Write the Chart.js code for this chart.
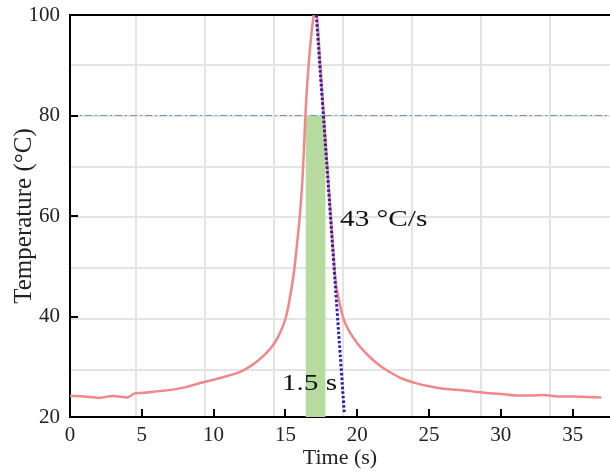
<!DOCTYPE html>
<html>
<head>
<meta charset="utf-8">
<script src="https://cdn.jsdelivr.net/npm/chart.js@4.4.1/dist/chart.umd.min.js"></script>
<style>
  html, body { margin: 0; padding: 0; background: #fff; }
  #wrap { width: 610px; height: 472px; }
</style>
</head>
<body>
<div id="wrap"><canvas id="chart"></canvas></div>
<script>
// measured temperature curve
const time = [0, 1, 2, 3, 4, 4.5, 5, 6, 7, 8, 9, 10, 11, 12, 13, 14, 14.5, 15, 15.2, 15.6, 15.9, 16.0, 16.2, 16.3, 16.4, 16.6, 16.95, 17.1,
  17.5, 17.9, 18.2, 18.5, 18.75, 19.05, 19.5, 20, 20.5, 21, 21.5, 22, 23, 24, 25, 26, 27, 28, 29, 30, 31, 32, 33, 34, 35, 36, 37];
const temp = [24.2, 24.1, 23.8, 24.2, 23.9, 24.7, 24.8, 25.1, 25.4, 25.9, 26.7, 27.4, 28.2, 29.2, 31.0, 33.8, 36.0, 39.5, 42.0, 49.0, 57.0, 60.0, 68.0, 74.0, 80.5, 89.5, 99.5, 101,
  87.0, 70.5, 58.5, 47.0, 43.0, 39.5, 36.8, 34.7, 33.0, 31.6, 30.4, 29.4, 27.8, 26.8, 26.1, 25.6, 25.4, 25.1, 24.8, 24.6, 24.3, 24.3, 24.4, 24.1, 24.1, 24.0, 23.9];

// tangent on the falling edge
const tangentTime = [17.15, 19.1];
const tangentTemp = [100, 20.8];

// time window above 80 degrees
const windowTime = [16.4, 17.8];
const windowTemp = [80, 80];

// 80 degree reference line
const refTime = [0, 37.6];
const refTemp = [80, 80];

const xTicks = [0, 5, 10, 15, 20, 25, 30, 35];
const yTicks = [20, 40, 60, 80, 100];

const noteText = ['43 \u00B0C/s', '1.5 s'];
const noteX = [18.8, 14.75];
const noteY = [59.2, 26.6];

const pts = (xs, ys) => xs.map((x, i) => ({ x: x, y: ys[i] }));
const serif = '"Liberation Serif", "Times New Roman", serif';

// text labels inside the plot, slightly widened like the original
const notesPlugin = {
  id: 'notes',
  afterDatasetsDraw(chart) {
    const ctx = chart.ctx;
    const sx = chart.scales.x, sy = chart.scales.y;
    ctx.save();
    ctx.font = '24px ' + serif;
    ctx.fillStyle = '#111';
    ctx.textAlign = 'left';
    ctx.textBaseline = 'middle';
    noteText.forEach((t, i) => {
      const px = sx.getPixelForValue(noteX[i]), py = sy.getPixelForValue(noteY[i]);
      ctx.save();
      ctx.translate(px, py);
      ctx.scale(1.22, 1);
      ctx.fillText(t, 0, 0);
      ctx.restore();
    });
    ctx.restore();
  }
};

// short tick marks pointing into the plot
const innerTicks = {
  id: 'innerTicks',
  afterDraw(chart) {
    const ctx = chart.ctx;
    const sx = chart.scales.x, sy = chart.scales.y;
    const a = chart.chartArea;
    ctx.save();
    ctx.strokeStyle = '#000';
    ctx.lineWidth = 2;
    ctx.beginPath();
    sx.ticks.forEach(t => {
      const p = Math.round(sx.getPixelForValue(t.value));
      ctx.moveTo(p, a.bottom);
      ctx.lineTo(p, a.bottom - 8);
    });
    sy.ticks.forEach(t => {
      const p = Math.round(sy.getPixelForValue(t.value));
      ctx.moveTo(a.left, p);
      ctx.lineTo(a.left + 8, p);
    });
    ctx.stroke();
    ctx.restore();
  }
};

const bgGrid = { color: '#e4e4e4', lineWidth: 2, drawTicks: false };

new Chart(document.getElementById('chart'), {
  type: 'line',
  data: {
    datasets: [
      {
        data: pts(windowTime, windowTemp),
        borderWidth: 0,
        backgroundColor: '#b7da9f',
        fill: { value: 20 },
        pointRadius: 0,
        order: 5
      },
      {
        data: pts(refTime, refTemp),
        borderColor: '#6f97c4',
        borderWidth: 1.2,
        borderDash: [7, 3, 2, 3],
        pointRadius: 0,
        fill: false,
        order: 4
      },
      {
        data: pts(time, temp),
        borderColor: '#f2878a',
        borderWidth: 2.5,
        pointRadius: 0,
        cubicInterpolationMode: 'monotone',
        fill: false,
        clip: 0,
        order: 3
      },
      {
        data: pts(tangentTime, tangentTemp),
        borderColor: '#2f1fb0',
        borderWidth: 3,
        borderDash: [2.6, 2],
        pointRadius: 0,
        fill: false,
        order: 2
      }
    ]
  },
  options: {
    responsive: true,
    maintainAspectRatio: false,
    animation: false,
    layout: { padding: 0 },
    plugins: {
      legend: { display: false },
      tooltip: { enabled: false }
    },
    scales: {
      x: {
        type: 'linear',
        position: 'bottom',
        min: 0,
        max: 37.6,
        afterBuildTicks: s => { s.ticks = xTicks.map(v => ({ value: v })); },
        afterFit: s => { s.height = 55; s.paddingLeft = 0; s.paddingRight = 0; },
        border: { color: '#000', width: 2 },
        grid: { drawOnChartArea: false, drawTicks: false },
        ticks: { font: { family: serif, size: 21 }, color: '#222', padding: 6, maxRotation: 0, autoSkip: false },
        title: { display: true, text: 'Time (s)', font: { family: serif, size: 22 }, color: '#222', padding: { top: 0, bottom: 1 } }
      },
      xt: {
        type: 'linear',
        position: 'top',
        min: 0,
        max: 37.6,
        afterFit: s => { s.height = 15; s.paddingLeft = 0; s.paddingRight = 0; },
        border: { color: '#000', width: 2 },
        grid: { drawOnChartArea: false, drawTicks: false },
        ticks: { display: false }
      },
      gx: {
        type: 'linear',
        position: 'bottom',
        min: -0.96,
        max: 6.87,
        afterBuildTicks: s => { s.ticks = [0, 1, 2, 3, 4, 5, 6].map(v => ({ value: v })); },
        afterFit: s => { s.height = 0; s.paddingLeft = 0; s.paddingRight = 0; },
        border: { display: false },
        grid: bgGrid,
        ticks: { display: false }
      },
      y: {
        type: 'linear',
        position: 'left',
        min: 20,
        max: 100,
        afterBuildTicks: s => { s.ticks = yTicks.map(v => ({ value: v })); },
        afterFit: s => { s.width = 70; s.paddingTop = 0; s.paddingBottom = 0; },
        border: { color: '#000', width: 2 },
        grid: { drawOnChartArea: false, drawTicks: false },
        ticks: { font: { family: serif, size: 21 }, color: '#222', padding: 10 },
        title: { display: true, text: 'Temperature (\u00B0C)', font: { family: serif, size: 25 }, color: '#222', padding: { top: 9, bottom: 0 } }
      },
      gy: {
        type: 'linear',
        position: 'left',
        reverse: true,
        min: -0.984,
        max: 6.93,
        afterBuildTicks: s => { s.ticks = [0, 1, 2, 3, 4, 5, 6].map(v => ({ value: v })); },
        afterFit: s => { s.width = 0; s.paddingTop = 0; s.paddingBottom = 0; },
        border: { display: false },
        grid: bgGrid,
        ticks: { display: false }
      }
    }
  },
  plugins: [notesPlugin, innerTicks]
});
</script>
</body>
</html>
